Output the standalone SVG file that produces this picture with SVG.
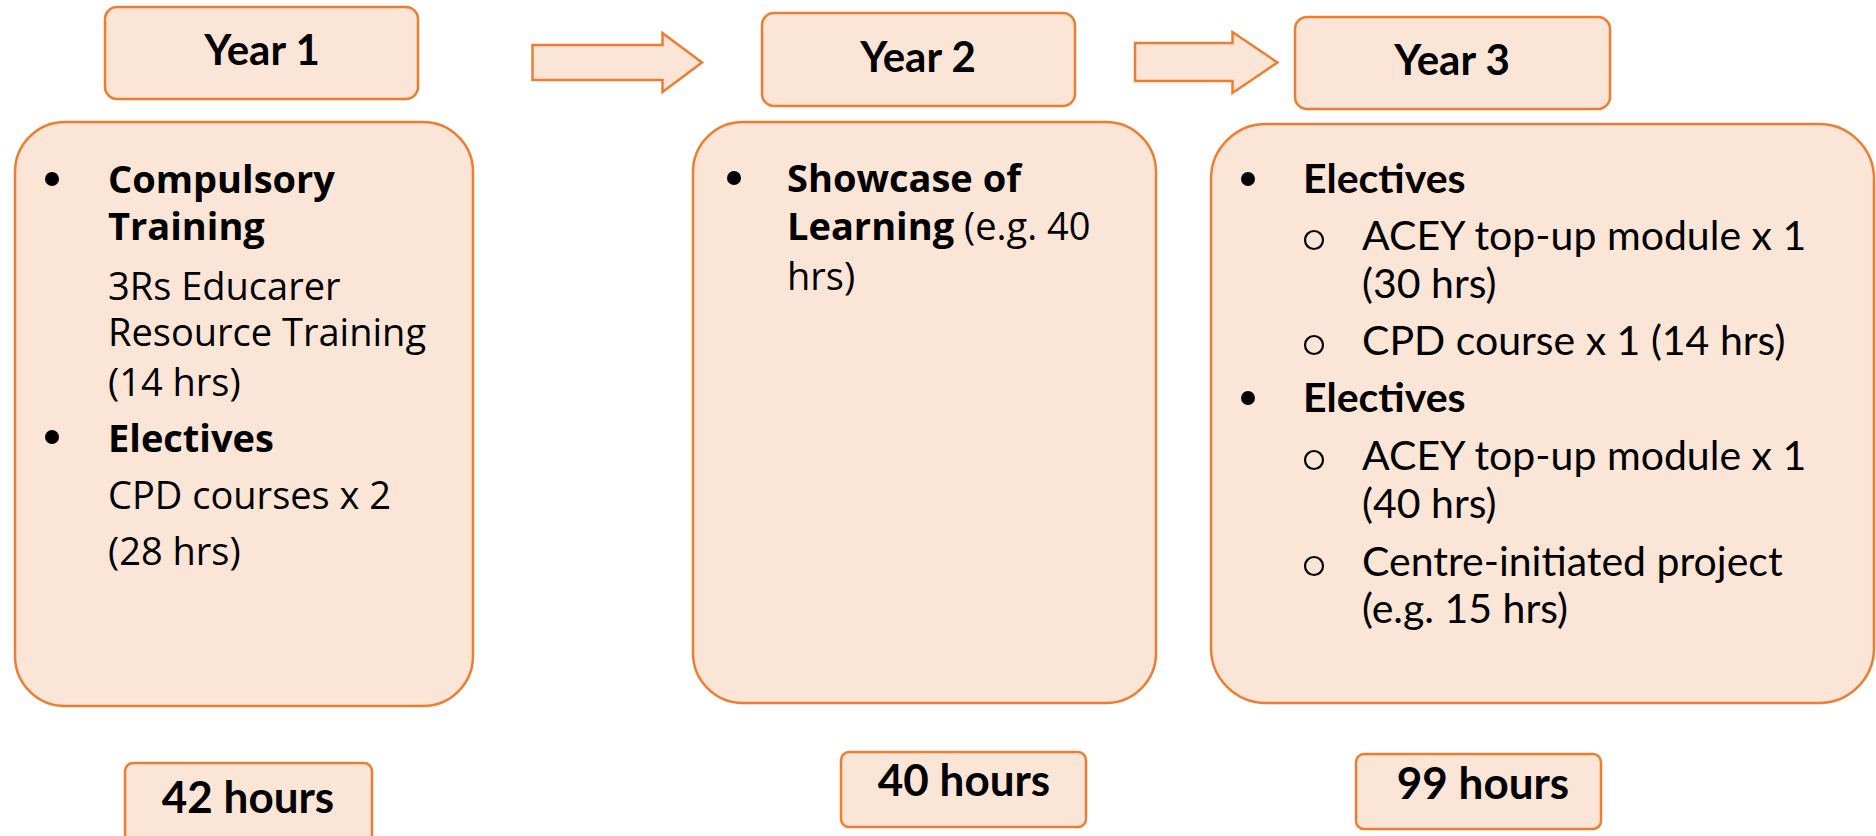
<svg xmlns="http://www.w3.org/2000/svg" width="1876" height="836" viewBox="0 0 1876 836">
  <style>
    .box { fill: #FBE5D6; stroke: #ED7D31; stroke-width: 2.5; }
    .title { font-family: Lato, "Liberation Sans", sans-serif; font-weight: 700; font-size: 42px; fill: #000; text-anchor: middle; }
    .hours { font-family: Lato, "Liberation Sans", sans-serif; font-weight: 700; font-size: 44px; fill: #000; text-anchor: middle; }
    .body { font-family: "Open Sans", "Noto Sans", sans-serif; font-size: 38px; fill: #000; }
    .body3 { font-family: Lato, "Liberation Sans", sans-serif; font-size: 41px; fill: #000; }
    .b { font-weight: 700; }
    .dot { fill: #000; }
    .ring { fill: none; stroke: #000; stroke-width: 2.2; }
  </style>

  <!-- connectors: block arrows between the year headers -->
  <g id="connectors">
    <polygon class="box" points="532.5,45 662.5,45 662.5,33 702,62.5 662.5,92 662.5,80 532.5,80"/>
    <polygon class="box" points="1135,43 1232.5,43 1232.5,32 1277.5,62.5 1232.5,93 1232.5,81 1135,81"/>
  </g>

  <!-- year headers -->
  <g id="year1">
    <rect class="box" x="105" y="7" width="313" height="92" rx="12"/>
    <text class="title" x="262" y="65">Year 1</text>
  </g>
  <g id="year2">
    <rect class="box" x="762" y="13" width="313" height="93" rx="12"/>
    <text class="title" x="918" y="72">Year 2</text>
  </g>
  <g id="year3">
    <rect class="box" x="1295" y="17" width="315" height="92" rx="12"/>
    <text class="title" x="1452" y="75">Year 3</text>
  </g>

  <!-- year 1 content -->
  <g id="content1">
    <rect class="box" x="15" y="122" width="458" height="584" rx="50"/>
    <circle class="dot" cx="52" cy="179" r="7"/>
    <text class="body b" x="108" y="193">Compulsory</text>
    <text class="body b" x="108" y="240">Training</text>
    <text class="body" x="108" y="300">3Rs Educarer</text>
    <text class="body" x="108" y="346">Resource Training</text>
    <text class="body" x="108" y="396">(14 hrs)</text>
    <circle class="dot" cx="52" cy="437" r="7"/>
    <text class="body b" x="108" y="452">Electives</text>
    <text class="body" x="108" y="509">CPD courses x 2</text>
    <text class="body" x="108" y="565">(28 hrs)</text>
  </g>

  <!-- year 2 content -->
  <g id="content2">
    <rect class="box" x="693" y="122" width="463" height="581" rx="50"/>
    <circle class="dot" cx="734" cy="178" r="7"/>
    <text class="body b" x="787" y="192">Showcase of</text>
    <text class="body" x="787" y="240"><tspan class="b">Learning</tspan> (e.g. 40</text>
    <text class="body" x="787" y="290">hrs)</text>
  </g>

  <!-- year 3 content -->
  <g id="content3">
    <rect class="box" x="1211" y="124" width="663" height="579" rx="55"/>
    <circle class="dot" cx="1248" cy="179" r="7"/>
    <text class="body3 b" x="1303" y="193">Electives</text>
    <circle class="ring" cx="1314" cy="240" r="9"/>
    <text class="body3" x="1362" y="250">ACEY top-up module x 1</text>
    <text class="body3" x="1362" y="298">(30 hrs)</text>
    <circle class="ring" cx="1314" cy="345" r="9"/>
    <text class="body3" x="1362" y="355">CPD course x 1 (14 hrs)</text>
    <circle class="dot" cx="1248" cy="398" r="7"/>
    <text class="body3 b" x="1303" y="412">Electives</text>
    <circle class="ring" cx="1314" cy="460" r="9"/>
    <text class="body3" x="1362" y="470">ACEY top-up module x 1</text>
    <text class="body3" x="1362" y="518">(40 hrs)</text>
    <circle class="ring" cx="1314" cy="566" r="9"/>
    <text class="body3" x="1362" y="576">Centre-initiated project</text>
    <text class="body3" x="1362" y="623">(e.g. 15 hrs)</text>
  </g>

  <!-- yearly hour totals -->
  <g id="total1">
    <rect class="box" x="125" y="763" width="247" height="90" rx="8"/>
    <text class="hours" x="248" y="813">42 hours</text>
  </g>
  <g id="total2">
    <rect class="box" x="841" y="752" width="245" height="75" rx="8"/>
    <text class="hours" x="964" y="796">40 hours</text>
  </g>
  <g id="total3">
    <rect class="box" x="1356" y="754" width="245" height="75" rx="8"/>
    <text class="hours" x="1483" y="799">99 hours</text>
  </g>
</svg>
